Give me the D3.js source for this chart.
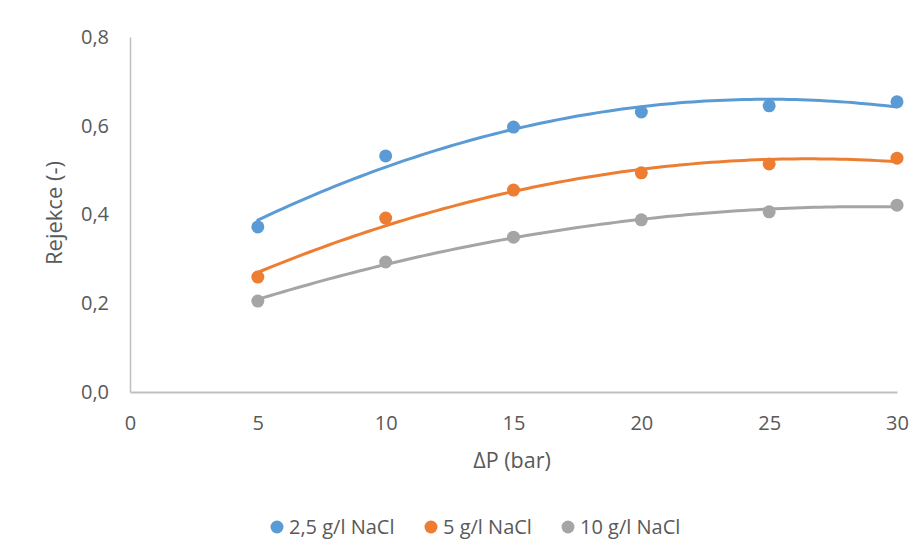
<!DOCTYPE html>
<html>
<head>
<meta charset="utf-8">
<script src="https://cdn.jsdelivr.net/npm/d3@7"></script>
<style>
  html, body { margin: 0; padding: 0; background: #fff; }
  text { font-family: "Open Sans", Lato, sans-serif; fill: #595959; }
</style>
</head>
<body>
<svg id="chart" width="912" height="540"></svg>
<script>
// Pressure difference (bar)
const pressures = [5, 10, 15, 20, 25, 30];
// Rejection for each feed concentration
const rej25 = [0.372, 0.532, 0.597, 0.631, 0.645, 0.654];
const rej5  = [0.259, 0.392, 0.455, 0.494, 0.514, 0.527];
const rej10 = [0.205, 0.293, 0.349, 0.388, 0.406, 0.421];
const seriesNames = ["2,5 g/l NaCl", "5 g/l NaCl", "10 g/l NaCl"];
const seriesColors = ["#5B9BD5", "#ED7D31", "#A5A5A5"];
const xTicks = [0, 5, 10, 15, 20, 25, 30];
const yTicks = [0, 0.2, 0.4, 0.6, 0.8];

const series = [rej25, rej5, rej10].map((vals, i) => ({
  name: seriesNames[i], color: seriesColors[i],
  points: pressures.map((p, j) => ({ x: p, y: vals[j] }))
}));

const svg = d3.select("#chart");
const x = d3.scaleLinear().domain([0, 30]).range([130, 897]);
const y = d3.scaleLinear().domain([0, 0.8]).range([392, 37]);
const fmt = d3.format(".1f");
const comma = v => fmt(v).replace(".", ",");

// Axes: plain grey lines, no tick marks
const xAxis = svg.append("g").attr("transform", "translate(0,392)")
  .call(d3.axisBottom(x).tickValues(xTicks).tickSize(0).tickPadding(24).tickFormat(d3.format("d")));
const yAxis = svg.append("g").attr("transform", "translate(130,0)")
  .call(d3.axisLeft(y).tickValues(yTicks).tickSize(0).tickPadding(21).tickFormat(comma));
[xAxis, yAxis].forEach(a => {
  a.select(".domain").attr("stroke", "#bfbfbf").attr("stroke-width", 2);
  a.selectAll("text").style("font-size", "20px").attr("fill", "#595959");
});
yAxis.select(".domain").attr("stroke-width", 1.5);

// Axis titles
svg.append("text").attr("x", 512).attr("y", 468).attr("text-anchor", "middle")
  .style("font-size", "21.5px").text("ΔP (bar)");
svg.append("text").attr("transform", "translate(62,213) rotate(-90)").attr("text-anchor", "middle")
  .style("font-size", "22px").text("Rejekce (-)");

// Second-order polynomial least-squares trend line
function quadFit(pts) {
  let s = [0, 0, 0, 0, 0], t = [0, 0, 0];
  pts.forEach(p => {
    for (let k = 0; k < 5; k++) s[k] += Math.pow(p.x, k);
    for (let k = 0; k < 3; k++) t[k] += p.y * Math.pow(p.x, k);
  });
  const A = [[s[0], s[1], s[2], t[0]], [s[1], s[2], s[3], t[1]], [s[2], s[3], s[4], t[2]]];
  for (let i = 0; i < 3; i++) {
    for (let r = i + 1; r < 3; r++) {
      const f = A[r][i] / A[i][i];
      for (let c = i; c < 4; c++) A[r][c] -= f * A[i][c];
    }
  }
  const c = [0, 0, 0];
  for (let i = 2; i >= 0; i--) {
    let v = A[i][3];
    for (let j = i + 1; j < 3; j++) v -= A[i][j] * c[j];
    c[i] = v / A[i][i];
  }
  return xv => c[0] + c[1] * xv + c[2] * xv * xv;
}

const line = d3.line().x(d => x(d.x)).y(d => y(d.y)).curve(d3.curveLinear);

series.forEach(s => {
  svg.append("g").selectAll("circle").data(s.points).join("circle")
    .attr("cx", d => x(d.x)).attr("cy", d => y(d.y)).attr("r", 6.5)
    .attr("fill", s.color);
});
series.forEach(s => {
  const f = quadFit(s.points);
  const xs = d3.range(5, 30.001, 0.25);
  svg.append("path").datum(xs.map(v => ({ x: v, y: f(v) })))
    .attr("d", line).attr("fill", "none").attr("stroke", s.color)
    .attr("stroke-width", 3).attr("stroke-linecap", "round");
});

// Legend
const legendX = [277, 431, 568];
const lg = svg.append("g");
series.forEach((s, i) => {
  lg.append("circle").attr("cx", legendX[i]).attr("cy", 527).attr("r", 6.5).attr("fill", s.color);
  lg.append("text").attr("x", legendX[i] + 12).attr("y", 534)
    .style("font-size", "20px").text(s.name);
});
</script>
</body>
</html>
